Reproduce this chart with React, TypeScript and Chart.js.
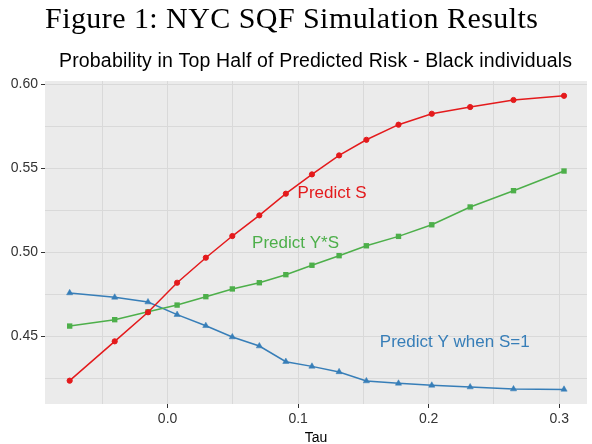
import { useEffect, useRef } from "react";
import { Chart, registerables } from "chart.js";

Chart.register(...registerables);

const tau = [-0.075, -0.0405, -0.015, 0.0073, 0.0293, 0.0496, 0.0703, 0.0906, 0.1106, 0.1314, 0.1523, 0.1769, 0.2024, 0.2318, 0.265, 0.3037];
const predictS = [0.4236, 0.447, 0.4643, 0.4819, 0.4968, 0.5097, 0.522, 0.5349, 0.5464, 0.5577, 0.567, 0.576, 0.5825, 0.5865, 0.5907, 0.5932];
const predictYS = [0.4561, 0.4599, 0.4646, 0.4686, 0.4736, 0.4782, 0.4819, 0.4867, 0.4923, 0.498, 0.5039, 0.5095, 0.5164, 0.527, 0.5367, 0.5484];
const predictY = [0.4758, 0.4732, 0.4704, 0.4629, 0.4563, 0.4496, 0.4442, 0.4349, 0.4321, 0.4288, 0.4234, 0.422, 0.4208, 0.4198, 0.4186, 0.4184];

const xGrid = [-0.05, 0, 0.05, 0.1, 0.15, 0.2, 0.25, 0.3];
const yGrid = [0.425, 0.45, 0.475, 0.5, 0.525, 0.55, 0.575, 0.6];

const seriesNames = ["Predict S", "Predict Y*S", "Predict Y when S=1"];
const labelX = [0.126, 0.098, 0.22];
const labelY = [0.535, 0.5055, 0.4462];

const TITLE = "Figure 1: NYC SQF Simulation Results";
const SUBTITLE = "Probability in Top Half of Predicted Risk - Black individuals";

const COLORS = ["#E41A1C", "#4DAF4A", "#377EB8"];
const SANS = "'Liberation Sans', Arial, sans-serif";

const isMajorX = (v: number) => Math.abs(v * 10 - Math.round(v * 10)) < 1e-6;
const isMajorY = (v: number) => Math.abs(v * 20 - Math.round(v * 20)) < 1e-6;

function drawFitted(ctx: any, text: string, left: number, right: number, baseline: number) {
  ctx.letterSpacing = "0px";
  const w = ctx.measureText(text).width;
  const n = Math.max(1, text.length - 1);
  const sp = (right - left - w) / n;
  ctx.letterSpacing = `${sp}px`;
  ctx.textAlign = "left";
  ctx.fillText(text, left, baseline);
  ctx.letterSpacing = "0px";
}

export default function App() {
  const ref = useRef<HTMLCanvasElement | null>(null);

  useEffect(() => {
    document.body.style.margin = "0";
    const canvas = ref.current;
    if (!canvas) return;

    const panelPlugin = {
      id: "panel",
      beforeDraw(chart: any) {
        const { ctx, chartArea } = chart;
        ctx.save();
        ctx.fillStyle = "#EBEBEB";
        ctx.fillRect(chartArea.left, chartArea.top, chartArea.right - chartArea.left, chartArea.bottom - chartArea.top);
        ctx.restore();
      },
      afterDraw(chart: any) {
        const { ctx, scales } = chart;
        ctx.save();
        ctx.fillStyle = "#000";
        ctx.textBaseline = "alphabetic";
        ctx.font = "30px 'Liberation Serif', serif";
        drawFitted(ctx, TITLE, 45, 538, 28);
        ctx.font = `19.5px ${SANS}`;
        drawFitted(ctx, SUBTITLE, 59, 572, 66.5);
        ctx.font = `17px ${SANS}`;
        ctx.textAlign = "center";
        ctx.textBaseline = "middle";
        seriesNames.forEach((name, i) => {
          ctx.fillStyle = COLORS[i];
          ctx.fillText(name, scales.x.getPixelForValue(labelX[i]), scales.y.getPixelForValue(labelY[i]));
        });
        ctx.restore();
      },
    };

    const mk = (ys: number[]) => tau.map((x, i) => ({ x, y: ys[i] }));

    const chart = new Chart(canvas, {
      type: "scatter",
      data: {
        datasets: [
          { label: seriesNames[0], data: mk(predictS), showLine: true, borderColor: COLORS[0], backgroundColor: COLORS[0], borderWidth: 1.5, pointStyle: "circle", pointRadius: 2.6, pointBorderWidth: 1 },
          { label: seriesNames[1], data: mk(predictYS), showLine: true, borderColor: COLORS[1], backgroundColor: COLORS[1], borderWidth: 1.5, pointStyle: "rect", pointRadius: 3.8, pointBorderWidth: 0 },
          { label: seriesNames[2], data: mk(predictY), showLine: true, borderColor: COLORS[2], backgroundColor: COLORS[2], borderWidth: 1.5, pointStyle: "triangle", pointRadius: 3.6, pointBorderWidth: 0.5 },
        ],
      },
      options: {
        animation: false,
        responsive: false,
        layout: { padding: { top: 81, right: 0, left: 0, bottom: 0 } },
        plugins: { legend: { display: false }, tooltip: { enabled: false }, title: { display: false } },
        scales: {
          x: {
            type: "linear",
            min: -0.0939,
            max: 0.3213,
            afterBuildTicks: (scale: any) => {
              scale.ticks = xGrid.map((v) => ({ value: v }));
            },
            afterFit: (scale: any) => {
              scale.height = 40;
            },
            ticks: {
              color: "#333",
              font: { family: SANS, size: 14 },
              padding: 3,
              maxRotation: 0,
              autoSkip: false,
              callback: (v: any) => (isMajorX(Number(v)) ? Number(v).toFixed(1) : ""),
            },
            grid: {
              color: "#D9D9D9",
              lineWidth: 1,
              tickLength: 4,
              tickColor: (ctx: any) => (ctx.tick && isMajorX(ctx.tick.value) ? "#333" : "rgba(0,0,0,0)"),
            },
            border: { display: false },
            title: { display: true, text: "Tau", color: "#000", font: { family: SANS, size: 14, lineHeight: 1 }, padding: { top: 0, bottom: -1 } },
          },
          y: {
            type: "linear",
            min: 0.4097,
            max: 0.602,
            afterBuildTicks: (scale: any) => {
              scale.ticks = yGrid.map((v) => ({ value: v }));
            },
            afterFit: (scale: any) => {
              scale.width = 45;
            },
            ticks: {
              color: "#333",
              font: { family: SANS, size: 14 },
              padding: 3,
              autoSkip: false,
              callback: (v: any) => (isMajorY(Number(v)) ? Number(v).toFixed(2) : ""),
            },
            grid: {
              color: "#D9D9D9",
              lineWidth: 1,
              tickLength: 4,
              tickColor: (ctx: any) => (ctx.tick && isMajorY(ctx.tick.value) ? "#333" : "rgba(0,0,0,0)"),
            },
            border: { display: false },
          },
        },
      },
      plugins: [panelPlugin],
    });

    return () => chart.destroy();
  }, []);

  return <canvas ref={ref} width={592} height={444} style={{ display: "block" }} />;
}
